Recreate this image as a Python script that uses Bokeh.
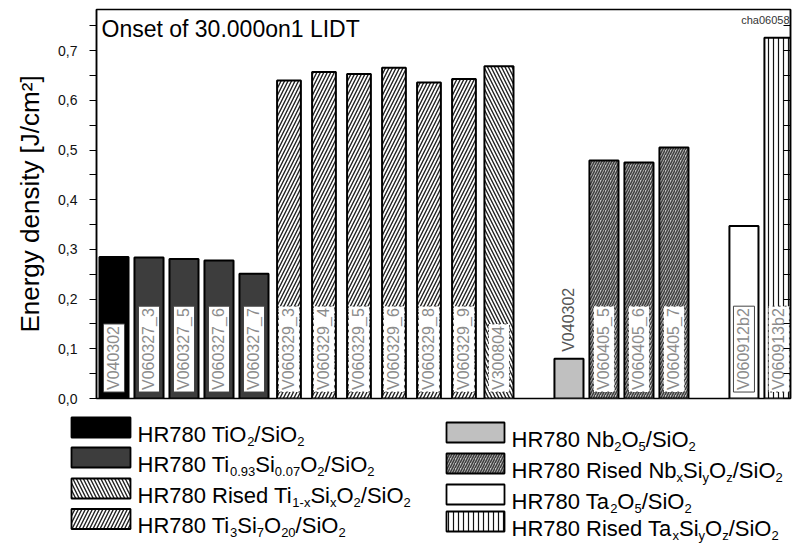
import math
from bokeh.plotting import figure
from bokeh.layouts import column
from bokeh.models import (Range1d, LinearAxis, FixedTicker, CustomJSTickFormatter,
                          Label, ColumnDataSource)
from bokeh.core.properties import value
from bokeh.embed import file_html
from bokeh.resources import INLINE

# ---------------- data ----------------
samples = ["V040302", "V060327_3", "V060327_5", "V060327_6", "V060327_7",
           "V060329_3", "V060329_4", "V060329_5", "V060329_6", "V060329_8", "V060329_9",
           "V300804", "V040302", "V060405_5", "V060405_6", "V060405_7",
           "V060912b2", "V060913b2"]
energy = [0.285, 0.284, 0.281, 0.278, 0.251,
          0.640, 0.657, 0.653, 0.666, 0.636, 0.643,
          0.669, 0.080, 0.479, 0.475, 0.505,
          0.347, 0.726]
slot = [1, 2, 3, 4, 5, 6, 7, 8, 9, 10, 11, 12, 14, 15, 16, 17, 19, 20]
coating = ["TiO2", "Ti093", "Ti093", "Ti093", "Ti093",
           "Ti3Si7", "Ti3Si7", "Ti3Si7", "Ti3Si7", "Ti3Si7", "Ti3Si7",
           "RisedTi", "Nb2O5", "RisedNb", "RisedNb", "RisedNb",
           "Ta2O5", "RisedTa"]
label_above = [False] * 12 + [True] + [False] * 5

y_ticks = [0.0, 0.1, 0.2, 0.3, 0.4, 0.5, 0.6, 0.7]
y_minor = [0.05, 0.15, 0.25, 0.35, 0.45, 0.55, 0.65, 0.75]

title_text = "Onset of 30.000on1 LIDT"
corner_text = "cha06058"
y_label = "Energy density [J/cm\u00b2]"

legend_left = ["TiO2", "Ti093", "RisedTi", "Ti3Si7"]
legend_right = ["Nb2O5", "RisedNb", "Ta2O5", "RisedTa"]
legend_texts = {
    "TiO2": [("HR780 TiO", 0), ("2", 1), ("/SiO", 0), ("2", 1)],
    "Ti093": [("HR780 Ti", 0), ("0.93", 1), ("Si", 0), ("0.07", 1), ("O", 0), ("2", 1), ("/SiO", 0), ("2", 1)],
    "RisedTi": [("HR780 Rised Ti", 0), ("1-x", 1), ("Si", 0), ("x", 1), ("O", 0), ("2", 1), ("/SiO", 0), ("2", 1)],
    "Ti3Si7": [("HR780 Ti", 0), ("3", 1), ("Si", 0), ("7", 1), ("O", 0), ("20", 1), ("/SiO", 0), ("2", 1)],
    "Nb2O5": [("HR780 Nb", 0), ("2", 1), ("O", 0), ("5", 1), ("/SiO", 0), ("2", 1)],
    "RisedNb": [("HR780 Rised Nb", 0), ("x", 1), ("Si", 0), ("y", 1), ("O", 0), ("z", 1), ("/SiO", 0), ("2", 1)],
    "Ta2O5": [("HR780 Ta", 0), ("2", 1), ("O", 0), ("5", 1), ("/SiO", 0), ("2", 1)],
    "RisedTa": [("HR780 Rised Ta", 0), ("x", 1), ("Si", 0), ("y", 1), ("O", 0), ("z", 1), ("/SiO", 0), ("2", 1)],
}

# ---------------- styles ----------------
styles = {
    "TiO2": dict(fill_color="black", width=0.83),
    "Ti093": dict(fill_color="#3d3d3d", width=0.83),
    "RisedTi": dict(fill_color="white", hatch_pattern="\\", hatch_scale=7, hatch_weight=1.4,
                    hatch_color="#222222", width=0.83),
    "Ti3Si7": dict(fill_color="white", hatch_pattern="/", hatch_scale=7, hatch_weight=1.4,
                   hatch_color="#222222", width=0.68),
    "Nb2O5": dict(fill_color="#c0c0c0", width=0.83),
    "RisedNb": dict(fill_color="#c4c4c4", hatch_pattern="/", hatch_scale=5, hatch_weight=1.6,
                    hatch_color="#404040", width=0.83),
    "Ta2O5": dict(fill_color="white", width=0.83),
    "RisedTa": dict(fill_color="white", hatch_pattern="|", hatch_scale=5, hatch_weight=1.2,
                    hatch_color="#111111", width=0.83),
}
FONT = "Liberation Sans"

# ---------------- main chart ----------------
x_range = Range1d(0.5, 20.33)
y_range = Range1d(0.0, 0.783)
p = figure(width=795, height=408, x_range=x_range, y_range=y_range,
           output_backend="svg", toolbar_location=None,
           min_border_left=96, min_border_right=5, min_border_top=9, min_border_bottom=10,
           y_axis_location=None, x_axis_location=None)
p.frame_align = False
p.xgrid.visible = False
p.ygrid.visible = False
p.outline_line_color = "black"
p.outline_line_width = 1.5
p.background_fill_color = "white"
p.border_fill_color = "white"

left_axis = LinearAxis(ticker=FixedTicker(ticks=y_ticks, minor_ticks=y_minor),
                       formatter=CustomJSTickFormatter(code="return tick.toFixed(1).replace('.', ',');"),
                       axis_label=y_label,
                       axis_label_text_font=FONT, axis_label_text_font_size="26px",
                       axis_label_text_font_style="normal", axis_label_text_color="black",
                       axis_label_standoff=10,
                       major_label_text_font=FONT, major_label_text_font_size="14px",
                       major_label_text_color="#111111", major_label_standoff=12,
                       major_tick_in=0, major_tick_out=7, minor_tick_in=0, minor_tick_out=7,
                       axis_line_width=1.5, major_tick_line_width=1.2, minor_tick_line_width=1.2)
p.add_layout(left_axis, "left")

right_axis = LinearAxis(ticker=FixedTicker(ticks=y_ticks, minor_ticks=y_minor),
                        formatter=CustomJSTickFormatter(code="return '';"),
                        major_label_standoff=0, major_label_text_font_size="1px",
                        major_tick_in=7, major_tick_out=0, minor_tick_in=7, minor_tick_out=0,
                        axis_line_width=1.5, major_tick_line_width=1.2, minor_tick_line_width=1.2)
p.add_layout(right_axis, "right")

for grp, st in styles.items():
    idx = [i for i, c in enumerate(coating) if c == grp]
    if not idx:
        continue
    src = ColumnDataSource(dict(x=[slot[i] for i in idx], top=[energy[i] for i in idx]))
    kw = dict(st)
    w = kw.pop("width")
    p.vbar(x="x", top="top", width=w, bottom=0, source=src,
           line_color="black", line_width=2, **kw)

# sample labels inside bars (in white boxes)
inside = [i for i in range(len(samples)) if not label_above[i]]
solid_groups = {"TiO2", "Ti093", "Nb2O5", "Ta2O5"}
for dashed in (False, True):
    ids = [i for i in inside if (coating[i] not in solid_groups) == dashed]
    src = ColumnDataSource(dict(x=[slot[i] for i in ids], y=[0.013] * len(ids),
                                t=[samples[i] for i in ids]))
    p.text(x="x", y="y", text="t", source=src, angle=math.pi / 2,
           text_align="left", text_baseline="middle",
           text_font=value(FONT), text_font_size="16px", text_color="#8c8c8c",
           background_fill_color="white", border_line_color="#444444",
           border_line_width=1, border_line_dash="dotted" if dashed else "solid",
           padding=2)

# label above the bar
ab = [i for i in range(len(samples)) if label_above[i]]
src_ab = ColumnDataSource(dict(x=[slot[i] for i in ab], y=[energy[i] + 0.014 for i in ab],
                               t=[samples[i] for i in ab]))
p.text(x="x", y="y", text="t", source=src_ab, angle=math.pi / 2,
       text_align="left", text_baseline="middle",
       text_font=value(FONT), text_font_size="16px", text_color="#555555")

p.add_layout(Label(x=x_range.start, y=y_range.end, x_offset=5, y_offset=-6,
                   text=title_text, text_font=FONT, text_font_size="23px",
                   text_color="black", text_baseline="top", text_align="left"))
p.add_layout(Label(x=x_range.end, y=y_range.end, x_offset=-1, y_offset=-4,
                   text=corner_text, text_font=FONT, text_font_size="11px",
                   text_color="#333333", text_baseline="top", text_align="right"))

# ---------------- legend (separate strip, pixel coordinates) ----------------
LW = 795
LH = 135
leg = figure(width=LW, height=LH, x_range=Range1d(0, LW), y_range=Range1d(LH, 0),
             output_backend="svg", toolbar_location=None,
             x_axis_type=None, y_axis_type=None, min_border=0)
leg.frame_align = False
leg.xgrid.visible = False
leg.ygrid.visible = False
leg.outline_line_color = None
leg.border_fill_color = "white"

ARIAL = {"H": 722, "R": 722, "T": 611, "O": 778, "S": 667, "N": 722, " ": 278, "/": 278,
         ".": 278, "-": 333, "i": 222, "s": 500, "e": 556, "d": 556, "a": 556, "b": 556,
         "x": 500, "y": 500, "z": 500}
KERN = {("T", "a"): -74, ("T", "i"): -18}

def tw(s, size):
    w = sum(ARIAL.get(ch, 556) for ch in s)
    w += sum(KERN.get((a, b), 0) for a, b in zip(s, s[1:]))
    return w / 1000.0 * size

MAIN = 22
SUB = 13
cols = [(legend_left, 71, 130, 137, [19, 49, 80, 110.5]),
        (legend_right, 446, 504, 511, [24, 55, 86, 113])]
for keys, sx0, sx1, tx0, centers in cols:
    for key, cy in zip(keys, centers):
        st = dict(styles[key])
        st.pop("width")
        leg.rect(x=[(sx0 + sx1) / 2], y=[cy], width=[sx1 - sx0], height=[20],
                 line_color="black", line_width=1.8, **st)
        base = cy + 6.5
        xs_m, ys_m, ts_m, xs_s, ys_s, ts_s = [], [], [], [], [], []
        xpos = tx0
        for txt, sub in legend_texts[key]:
            if sub:
                xs_s.append(xpos); ys_s.append(base + 7); ts_s.append(txt)
                xpos += tw(txt, SUB)
            else:
                xs_m.append(xpos); ys_m.append(base); ts_m.append(txt)
                xpos += tw(txt, MAIN)
        leg.text(x=xs_m, y=ys_m, text=ts_m, text_font=value(FONT), text_font_size="22px",
                 text_color="black", text_align="left", text_baseline="alphabetic")
        leg.text(x=xs_s, y=ys_s, text=ts_s, text_font=value(FONT), text_font_size="13px",
                 text_color="black", text_align="left", text_baseline="alphabetic")

layout = column(p, leg, spacing=0)
open("out.html", "w").write(file_html(layout, INLINE))
